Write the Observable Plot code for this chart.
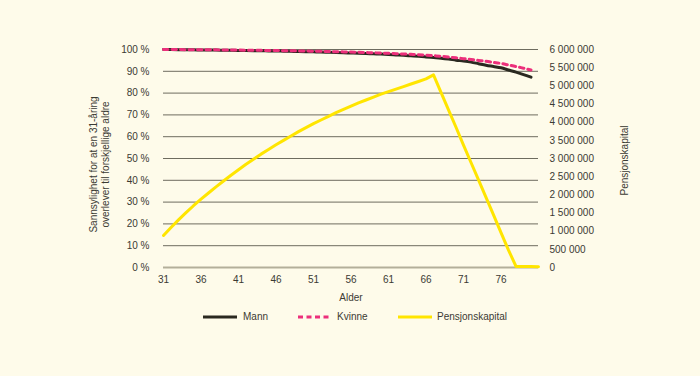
<!DOCTYPE html>
<html>
<head>
<meta charset="utf-8">
<script src="https://cdn.jsdelivr.net/npm/d3@7"></script>
<script src="https://cdn.jsdelivr.net/npm/@observablehq/plot@0.6"></script>
<style>
  html, body { margin: 0; padding: 0; background: #fefbea; }
  #wrap { position: relative; width: 700px; height: 376px; background: #fefbea; font-family: "Liberation Sans", Arial, sans-serif; color: #3b3a33; }
  .leg { position: absolute; top: 311px; height: 12px; font-size: 10px; line-height: 12px; white-space: nowrap; }
  .sw { position: absolute; top: 311px; }
</style>
</head>
<body>
<div id="wrap"></div>
<script>
// ---- data ----
const ages = d3.range(31, 82); // 31..81
const survivalAges = d3.range(31, 81); // 31..80
const mann = [
  100.00, 99.96, 99.92, 99.88, 99.84, 99.80, 99.76, 99.72, 99.67, 99.62,
  99.57, 99.52, 99.47, 99.42, 99.36, 99.30, 99.23, 99.16, 99.09, 99.01,
  98.92, 98.83, 98.73, 98.63, 98.52, 98.40, 98.28, 98.15, 98.01, 97.88,
  97.72, 97.52, 97.32, 97.10, 96.88, 96.60, 96.30, 96.00, 95.60, 95.10,
  94.70, 94.20, 93.50, 92.80, 92.20, 91.60, 90.60, 89.60, 88.50, 87.30
];
const kvinne = [
  100.00, 99.98, 99.96, 99.94, 99.92, 99.90, 99.87, 99.84, 99.81, 99.78,
  99.74, 99.70, 99.66, 99.62, 99.57, 99.52, 99.47, 99.41, 99.35, 99.29,
  99.22, 99.15, 99.07, 98.99, 98.90, 98.81, 98.71, 98.60, 98.49, 98.37,
  98.24, 98.10, 97.95, 97.79, 97.62, 97.40, 97.15, 96.90, 96.55, 96.20,
  95.80, 95.40, 95.00, 94.60, 94.10, 93.60, 92.90, 92.20, 91.40, 90.60
];
const pensjonskapital = [
  880000, 1100000, 1310000, 1510000, 1700000, 1880000, 2050000, 2220000, 2380000, 2540000,
  2690000, 2840000, 2980000, 3120000, 3250000, 3380000, 3500000, 3620000, 3740000, 3850000,
  3960000, 4060000, 4160000, 4260000, 4350000, 4440000, 4530000, 4610000, 4690000, 4770000,
  4840000, 4910000, 4980000, 5050000, 5120000, 5190000, 5300000, 4820000, 4340000, 3860000,
  3370000, 2890000, 2410000, 1930000, 1450000, 960000, 480000, 30000, 30000, 30000, 20000
];
const xTicks = [31, 36, 41, 46, 51, 56, 61, 66, 71, 76];
const pctTicks = [0, 10, 20, 30, 40, 50, 60, 70, 80, 90, 100];
const capTicks = [0, 500000, 1000000, 1500000, 2000000, 2500000, 3000000, 3500000, 4000000, 4500000, 5000000, 5500000, 6000000];
const capMax = 6000000;

const series = [
  { name: "Mann", color: "#2a2920", dash: null },
  { name: "Kvinne", color: "#ec2f7b", dash: "4.5,4" },
  { name: "Pensjonskapital", color: "#ffe500", dash: null }
];
const leftTitle = "Sannsylighet for at en 31-åring\noverlever til forskjellige aldre";
const rightTitle = "Pensjonskapital";
const xTitle = "Alder";

const survData = survivalAges.map((a, i) => ({ age: a, mann: mann[i], kvinne: kvinne[i] }));
const capData = ages.map((a, i) => ({ age: a, cap: pensjonskapital[i] }));
const fmtSpace = v => d3.format(",")(v).replace(/,/g, " ");
const textColor = "#3b3a33";

const chart = Plot.plot({
  width: 700,
  height: 376,
  marginLeft: 163,
  marginRight: 162,
  marginTop: 49,
  marginBottom: 109,
  style: { background: "transparent", fontFamily: "'Liberation Sans', Arial, sans-serif", fontSize: "10px", color: textColor },
  x: { domain: [31, 81] },
  y: { domain: [0, 100] },
  marks: [
    Plot.ruleY(pctTicks.slice(1), { stroke: "#6e6c5f", strokeWidth: 1 }),
    Plot.ruleY([0], { stroke: "#b3af9a", strokeWidth: 2 }),
    Plot.axisX({ ticks: xTicks, tickSize: 0, tickPadding: 8, tickFormat: d => String(d), label: null, fill: textColor }),
    Plot.axisY({ anchor: "left", ticks: pctTicks, tickSize: 0, tickPadding: 14, tickFormat: d => d + " %", label: null, fill: textColor }),
    Plot.axisY({ anchor: "right", ticks: capTicks.map(v => v / capMax * 100), tickSize: 0, tickPadding: 11,
      tickFormat: (d) => fmtSpace(Math.round(d / 100 * capMax / 500000) * 500000), label: null, fill: textColor, textAnchor: "start" }),
    Plot.lineY(capData, { x: "age", y: d => d.cap / capMax * 100, stroke: series[2].color, strokeWidth: 3 }),
    Plot.lineY(survData, { x: "age", y: "mann", stroke: series[0].color, strokeWidth: 3, curve: "monotone-x" }),
    Plot.lineY(survData, { x: "age", y: "kvinne", stroke: series[1].color, strokeWidth: 3, strokeDasharray: series[1].dash, curve: "monotone-x" }),
    Plot.text([leftTitle], { frameAnchor: "left", dx: -64, dy: 6, rotate: -90, textAnchor: "middle", lineAnchor: "middle", lineHeight: 1.2, fill: textColor, fontSize: 10 }),
    Plot.text([rightTitle], { frameAnchor: "right", dx: 86, dy: 2, rotate: -90, textAnchor: "middle", lineAnchor: "middle", fill: textColor, fontSize: 10 }),
    Plot.text([xTitle], { frameAnchor: "bottom", dy: 30, textAnchor: "middle", lineAnchor: "middle", fill: textColor, fontSize: 10 })
  ]
});

const wrap = document.getElementById("wrap");
wrap.appendChild(chart);
chart.style.position = "absolute";
chart.style.left = "0";
chart.style.top = "0";

// legend (HTML, below the chart area)
const legPos = [
  { sw: 203, txt: 243, w: 34 },
  { sw: 298, txt: 337, w: 31 },
  { sw: 398, txt: 437, w: 34 }
];
series.forEach((s, i) => {
  const p = legPos[i];
  const svg = document.createElementNS("http://www.w3.org/2000/svg", "svg");
  svg.setAttribute("width", p.w);
  svg.setAttribute("height", 12);
  svg.setAttribute("class", "sw");
  svg.style.left = p.sw + "px";
  const ln = document.createElementNS("http://www.w3.org/2000/svg", "line");
  ln.setAttribute("x1", 0); ln.setAttribute("x2", p.w);
  ln.setAttribute("y1", 6); ln.setAttribute("y2", 6);
  ln.setAttribute("stroke", s.color);
  ln.setAttribute("stroke-width", 3);
  if (s.dash) ln.setAttribute("stroke-dasharray", "5,3.5");
  svg.appendChild(ln);
  wrap.appendChild(svg);
  const t = document.createElement("div");
  t.className = "leg";
  t.style.left = p.txt + "px";
  t.textContent = s.name;
  wrap.appendChild(t);
});
</script>
</body>
</html>
